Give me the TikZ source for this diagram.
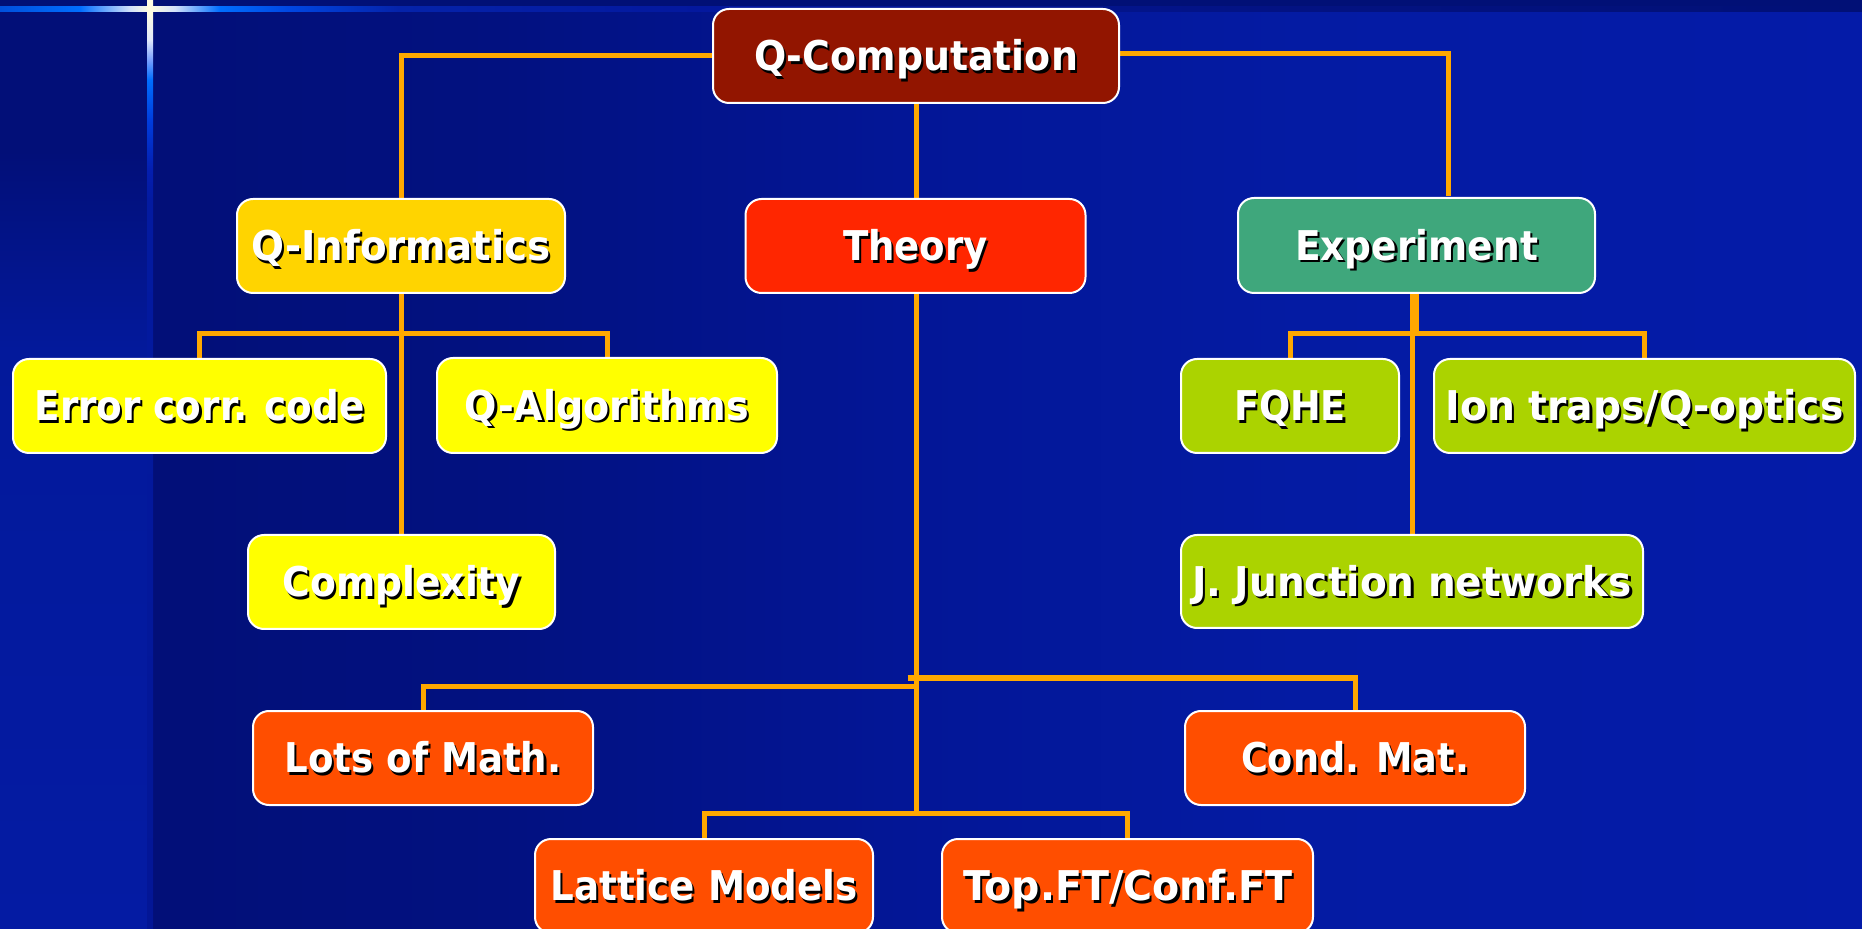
\documentclass[tikz,border=0pt]{standalone}
\usepackage{fontspec}
\setmainfont{DejaVu Sans}
\usepackage{graphicx}

% background colours
\definecolor{bgA}{RGB}{2,15,120}
\definecolor{bgB}{RGB}{2,17,128}
\definecolor{bgC}{RGB}{3,22,150}
\definecolor{bgD}{RGB}{4,27,163}
\definecolor{bgE}{RGB}{4,27,168}
\definecolor{stM}{RGB}{3,25,155}
\definecolor{stB}{RGB}{4,27,163}
\definecolor{topband}{RGB}{1,16,118}
\definecolor{tl0}{RGB}{0,80,220}
\definecolor{tl1}{RGB}{0,110,255}
\definecolor{tl2}{RGB}{210,225,250}
\definecolor{cream}{RGB}{255,252,225}
\definecolor{tl3}{RGB}{0,70,225}
\definecolor{tl4}{RGB}{5,35,170}
\definecolor{tl5}{RGB}{4,24,158}
\definecolor{tl6}{RGB}{3,18,130}
\definecolor{spB}{RGB}{3,22,150}
\definecolor{spH}{RGB}{3,26,160}
\definecolor{spG}{RGB}{4,30,175}
\definecolor{spF}{RGB}{0,60,220}
\definecolor{spE}{RGB}{120,160,255}
\definecolor{spD}{RGB}{225,232,250}

% box and connector colours
\definecolor{qcred}{RGB}{146,21,0}
\definecolor{goldbox}{RGB}{255,212,0}
\definecolor{theoryred}{RGB}{255,38,0}
\definecolor{expgreen}{RGB}{63,167,124}
\definecolor{yelbox}{RGB}{255,255,0}
\definecolor{limebox}{RGB}{171,211,0}
\definecolor{orabox}{RGB}{255,78,0}
\definecolor{connorange}{RGB}{255,168,0}

\pgfdeclarehorizontalshading{mainbg}{100bp}{color(0bp)=(bgA); color(28.97bp)=(bgA);
  color(38.4bp)=(bgB); color(49.2bp)=(bgC); color(59.9bp)=(bgD); color(75bp)=(bgE); color(100bp)=(bgE)}
\pgfdeclareverticalshading{stripbg}{100bp}{color(0bp)=(stB); color(25bp)=(stB);
  color(56.2bp)=(stM); color(66.9bp)=(bgA); color(100bp)=(bgA)}
\pgfdeclarehorizontalshading{topline}{100bp}{color(0bp)=(tl0); color(25bp)=(tl0);
  color(27.15bp)=(tl1); color(28.5bp)=(tl2); color(29.03bp)=(cream); color(29.7bp)=(tl2);
  color(30.9bp)=(tl1); color(32.8bp)=(tl3); color(35.7bp)=(tl4); color(43.8bp)=(tl5);
  color(59.9bp)=(tl6); color(75bp)=(topband); color(100bp)=(topband)}
\pgfdeclareverticalshading{sparkle}{100bp}{color(0bp)=(spB); color(25bp)=(spB);
  color(64.2bp)=(spH); color(65.85bp)=(spG); color(68.5bp)=(spF); color(70.7bp)=(tl1);
  color(71.77bp)=(spE); color(72.85bp)=(spD); color(74.35bp)=(cream); color(100bp)=(cream)}

% layers: backdrop, then connectors, then boxes
\pgfdeclarelayer{backdrop}
\pgfdeclarelayer{wires}
\pgfsetlayers{backdrop,wires,main}

% white label with a dark drop shadow, stretched to a given width (pt)
\newcommand\lbl[2]{\resizebox{#1pt}{\height}{\rlap{\kern1.2pt\raisebox{-1.2pt}{\color{black}#2}}#2}}

\begin{document}
\begin{tikzpicture}[x=0.5pt,y=-0.5pt,
  conn/.style={draw=connorange, line width=2.5pt},
  box/.style 2 args={rounded corners=8pt, draw=white, line width=1pt, inner sep=0pt,
    minimum width=#1pt-1pt, minimum height=#2pt-1pt,
    text=white, font=\fontsize{20.5}{24}\selectfont\bfseries,
    text height=14.9pt, text depth=0pt}]

\useasboundingbox (0,0) rectangle (1862,929);
\clip (0,0) rectangle (1862,929);

% background
\begin{pgfonlayer}{backdrop}
\shade[shading=mainbg] (0,0) rectangle (1862,929);
\shade[shading=stripbg] (0,0) rectangle (147,929);
\fill[topband] (0,0) rectangle (1862,12);
\shade[shading=topline] (0,7) rectangle (1862,12);
\shade[shading=sparkle] (147,0) rectangle (153,929);
\end{pgfonlayer}

% boxes
\node[box={204}{48}, fill=qcred] (qc) at (916,56) {\lbl{162}{Q-Computation}};
\node[box={165}{48}, fill=goldbox] (qi) at (401,246) {\lbl{149.5}{Q-Informatics}};
\node[box={171}{48}, fill=theoryred] (th) at (915.5,246) {\lbl{72.5}{Theory}};
\node[box={179.5}{48.5}, fill=expgreen] (ex) at (1416.5,245.5) {\lbl{121.5}{Experiment}};
\node[box={187.5}{48}, fill=yelbox] (ec) at (199.5,406) {\lbl{165}{Error corr. code}};
\node[box={171}{48.5}, fill=yelbox] (qa) at (607,405.5) {\lbl{142}{Q-Algorithms}};
\node[box={154.5}{48}, fill=yelbox] (cx) at (401.5,582) {\lbl{119}{Complexity}};
\node[box={110}{48}, fill=limebox] (fq) at (1290,406) {\lbl{56}{FQHE}};
\node[box={211.5}{48}, fill=limebox] (it) at (1644.5,406) {\lbl{199}{Ion traps/Q-optics}};
\node[box={232}{47.5}, fill=limebox] (jj) at (1412,581.5) {\lbl{220}{J. Junction networks}};
\node[box={171}{48}, fill=orabox] (lm) at (423,758) {\lbl{138.5}{Lots of Math.}};
\node[box={171}{48}, fill=orabox] (cm) at (1355,758) {\lbl{114}{Cond. Mat.}};
\node[box={170}{48}, fill=orabox] (la) at (704,886) {\lbl{153.5}{Lattice Models}};
\node[box={186.5}{48}, fill=orabox] (tf) at (1127.5,886) {\lbl{164.5}{Top.FT/Conf.FT}};

% junction points
\coordinate (exk) at (1448,196);
\coordinate (thEnd) at (916,815.5);
\coordinate (thL) at (916,686);
\coordinate (thR) at (907.5,678);
\coordinate (thB) at (916,813);
\coordinate (qiJ) at (401,334);
\coordinate (exJ) at (1414.5,334);

% connectors, kept beneath the boxes
\begin{pgfonlayer}{wires}
\draw[conn] (qc.west) -| (qi.north);
\draw[conn] ([yshift=1pt]qc.east) -| (exk);
\draw[conn] (qc.south) -- (qc.south |- th.north);
\draw[conn] (qc.south |- th.south) -- (thEnd);
\draw[conn] (thL) -| (lm.north);
\draw[conn] (thR) -| (cm.north);
\draw[conn] (la.north) |- (thB) -| (tf.north);
\draw[conn] (qi.south) -- (qi.south |- cx.north);
\draw[conn] (ec.north) |- (qiJ) -| (qa.north);
\draw[conn, line width=4.5pt] (ex.south -| exJ) -- (exJ);
\draw[conn] (fq.north) |- (exJ) -| (it.north);
\draw[conn] (jj.north |- exJ) -- (jj.north);
\end{pgfonlayer}
\end{tikzpicture}
\end{document}
